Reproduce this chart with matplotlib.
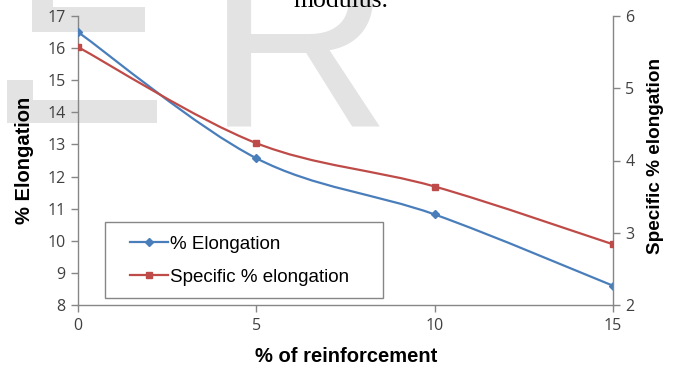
import numpy as np
import matplotlib
matplotlib.use('Agg')
import matplotlib.pyplot as plt
from matplotlib.path import Path
from matplotlib.patches import PathPatch, Rectangle
from matplotlib.lines import Line2D

# data
reinforcement = [0, 5, 10, 15]
elongation = [16.5, 12.57, 10.82, 8.6]
specific_elongation = [5.57, 4.24, 3.64, 2.84]

xticks = [0, 5, 10, 15]
left_ticks = list(range(8, 18))
right_ticks = [2, 3, 4, 5, 6]

blue = '#4a7ebb'
red = '#be4b48'
axis_grey = '#868686'
tick_col = '#404040'
wm_grey = '#e3e3e3'

W, H = 681, 367


def smooth_path(xs, ys):
    # excel style smoothed line: catmull-rom as cubic bezier
    pts = np.column_stack([xs, ys]).astype(float)
    verts = [pts[0]]
    codes = [Path.MOVETO]
    n = len(pts)
    for i in range(n - 1):
        p0 = pts[i - 1] if i > 0 else pts[i]
        p1 = pts[i]
        p2 = pts[i + 1]
        p3 = pts[i + 2] if i + 2 < n else pts[i + 1]
        verts += [p1 + (p2 - p0) / 6, p2 - (p3 - p1) / 6, p2]
        codes += [Path.CURVE4] * 3
    return Path(verts, codes)


def px_rect(x, y, w, h, **kw):
    # rectangle given in pixels from the top-left corner
    return Rectangle((x / W, 1 - (y + h) / H), w / W, h / H,
                     transform=fig.transFigure, **kw)


fig = plt.figure(figsize=(W / 100, H / 100), dpi=100)

# watermark pieces behind the chart
for r in [(32, 0, 21, 7), (32, 7, 113, 25), (7, 100, 150, 23), (7, 80, 26, 20)]:
    fig.patches.append(px_rect(*r, fc=wm_grey, ec='none', zorder=-5))
fig.text(206 / W, 1 - 125 / H, 'R', color=wm_grey, fontsize=185,
         family='Liberation Sans', va='baseline', ha='left', zorder=-5)
fig.text(293 / W, 1 - 7 / H, 'modulus.', family='Liberation Serif',
         fontsize=18.5, va='baseline', ha='left', color='black')

ax = fig.add_axes([78 / W, 1 - 305 / H, 535 / W, 289 / H])
ax2 = ax.twinx()
for a in (ax, ax2):
    a.patch.set_facecolor('none')
    a.spines['top'].set_visible(False)
    for s in a.spines.values():
        s.set_color(axis_grey)
        s.set_linewidth(1.0)

ax.spines['right'].set_visible(False)
ax2.spines['left'].set_visible(False)
ax2.spines['bottom'].set_visible(False)

ax.set_xlim(0, 15)
ax.set_ylim(8, 17)
ax2.set_ylim(2, 6)
ax.set_xticks(xticks)
ax.set_yticks(left_ticks)
ax2.set_yticks(right_ticks)

for a in (ax, ax2):
    a.tick_params(direction='out', length=5, width=1, color=axis_grey,
                  labelcolor=tick_col, pad=4)
    for lab in a.get_xticklabels() + a.get_yticklabels():
        lab.set_fontfamily('Open Sans')
        lab.set_fontsize(11.5)

# smoothed series
ax.add_patch(PathPatch(smooth_path(reinforcement, elongation), fc='none',
                       ec=blue, lw=1.6, zorder=3))
ax.plot(reinforcement, elongation, linestyle='none', marker='D', ms=4,
        color=blue, zorder=4)
ax2.add_patch(PathPatch(smooth_path(reinforcement, specific_elongation),
                        fc='none', ec=red, lw=1.6, zorder=3))
ax2.plot(reinforcement, specific_elongation, linestyle='none', marker='s',
         ms=5, color=red, zorder=4)

# legend
fig.patches.append(px_rect(105, 222, 278, 76, fc='white', ec=axis_grey,
                           lw=1.0, zorder=5))
handles = [Line2D([], [], color=blue, lw=1.6, marker='D', ms=4),
           Line2D([], [], color=red, lw=1.6, marker='s', ms=5)]
leg = fig.legend(handles, ['% Elongation', 'Specific % elongation'],
                 loc='center left', bbox_to_anchor=(130 / W, 1 - 260.5 / H),
                 frameon=False, borderpad=0, borderaxespad=0,
                 handlelength=2.0, handletextpad=0.15, labelspacing=0.85,
                 prop=dict(family='Liberation Sans', size=13.5))
leg.set_zorder(6)

lab = dict(family='Liberation Sans', weight='bold', size=14.5, color='black',
           ha='center', va='center')
fig.text(346 / W, 1 - 356 / H, '% of reinforcement', **lab)
fig.text(25 / W, 1 - 160 / H, '% Elongation', rotation=90, **lab)
lab['size'] = 13.6
fig.text(656 / W, 1 - 156 / H, 'Specific % elongation', rotation=90, **lab)

fig.savefig('out.png', dpi=100)
